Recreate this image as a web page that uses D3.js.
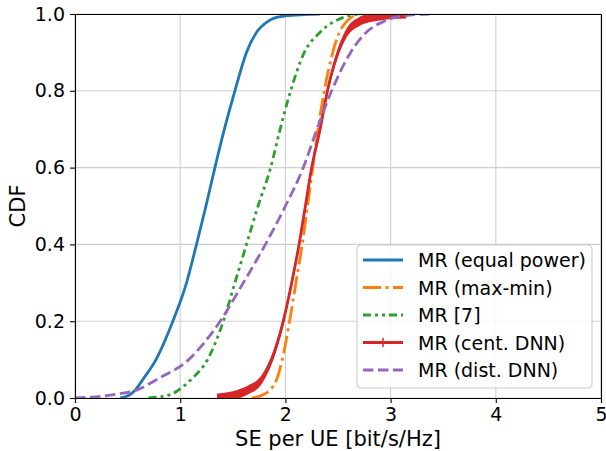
<!DOCTYPE html>
<html>
  <head>
    <meta charset="utf-8">
    <title>SE per UE CDF</title>
    <style media="screen">
      body {margin:0; background:#fff}
      text {font-family: "DejaVu Sans", sans-serif; fill:#000}
    </style>
  </head>
  <body>
    <script src="https://cdn.jsdelivr.net/npm/d3@7"></script>
    <script type="text/javascript">

    // CDF levels shared by every curve, and the SE value at each level
    const cdfLevels = [0, 0.01, 0.02, 0.05, 0.1, 0.2, 0.3, 0.4, 0.5, 0.6, 0.7, 0.8, 0.9, 0.95, 0.98, 0.99, 0.995, 1.0]

    const equalPower = [0.43, 0.53, 0.57, 0.65, 0.77, 0.93, 1.06, 1.155, 1.245, 1.33, 1.42, 1.52, 1.63, 1.72, 1.83, 1.90, 2.00, 2.33]
    const maxMin     = [1.68, 1.80, 1.85, 1.92, 1.97, 2.04, 2.10, 2.16, 2.21, 2.26, 2.31, 2.37, 2.45, 2.51, 2.58, 2.62, 2.65, 2.70]
    const ref7       = [0.70, 0.92, 0.98, 1.11, 1.26, 1.41, 1.52, 1.63, 1.74, 1.86, 1.95, 2.05, 2.18, 2.32, 2.46, 2.54, 2.60, 2.70]
    const centDNN    = [1.35, 1.55, 1.64, 1.78, 1.87, 1.98, 2.06, 2.13, 2.19, 2.25, 2.33, 2.40, 2.50, 2.58, 2.70, 2.80, 2.90, 3.15]
    const distDNN    = [0.00, 0.40, 0.58, 0.79, 1.08, 1.38, 1.60, 1.81, 2.00, 2.17, 2.30, 2.44, 2.62, 2.76, 2.93, 3.02, 3.12, 3.37]

    const seriesNames = ['MR (equal power)', 'MR (max-min)', 'MR [7]', 'MR (cent. DNN)', 'MR (dist. DNN)']
    const xTicks = [0, 1, 2, 3, 4, 5]
    const yTicks = [0.0, 0.2, 0.4, 0.6, 0.8, 1.0]

    const series = [
      {name: seriesNames[0], vals: equalPower, color: '#1f77b4', dash: null},
      {name: seriesNames[1], vals: maxMin, color: '#ff7f0e', dash: '18,4.5,3,4.5'},
      {name: seriesNames[2], vals: ref7, color: '#2ca02c', dash: '8,4,3,4,3,4'},
      {name: seriesNames[3], vals: centDNN, color: '#d62728', dash: null, band: true},
      {name: seriesNames[4], vals: distDNN, color: '#9467bd', dash: '10.5,4.5'}
    ]

    const W = 606, H = 451
    const m = {l: 75, r: 5, t: 14, b: 53}

    const svg = d3.select('body').append('svg')
      .attr('width', W)
      .attr('height', H)

    const x = d3.scaleLinear().domain([0, 5]).range([m.l, W - m.r])
    const y = d3.scaleLinear().domain([0, 1]).range([H - m.b, m.t])

    // grid
    const grid = svg.append('g').attr('stroke', '#cfcfcf').attr('stroke-width', 1.1)
    grid.selectAll('.gx').data(xTicks).join('line')
      .attr('x1', d => x(d)).attr('x2', d => x(d))
      .attr('y1', y(0)).attr('y2', y(1))
    grid.selectAll('.gy').data(yTicks).join('line')
      .attr('x1', x(0)).attr('x2', x(5))
      .attr('y1', d => y(d)).attr('y2', d => y(d))

    svg.append('clipPath').attr('id', 'clip')
      .append('rect')
      .attr('x', x(0)).attr('y', y(1))
      .attr('width', x(5) - x(0)).attr('height', y(0) - y(1))

    const plot = svg.append('g').attr('clip-path', 'url(#clip)')

    const line = d3.line()
      .x(d => x(d[0]))
      .y(d => y(d[1]))
      .curve(d3.curveMonotoneX)

    // '|' markers sit on every sample of the red curve, which fills a band
    const band = d3.area()
      .x(d => x(d[0]))
      .y0(d => y(d[1]) + 4.5)
      .y1(d => y(d[1]) - 4.5)
      .curve(d3.curveMonotoneX)

    series.forEach(s => {
      const pts = s.vals.map((v, i) => [v, cdfLevels[i]])
      if (s.band) {
        plot.append('path').attr('d', band(pts)).attr('fill', s.color)
      }
      plot.append('path')
        .attr('d', line(pts))
        .attr('fill', 'none')
        .attr('stroke', s.color)
        .attr('stroke-width', 2.8)
        .attr('stroke-dasharray', s.dash)
    })

    // axes
    svg.append('g')
      .attr('transform', `translate(0,${y(0)})`)
      .call(d3.axisBottom(x).tickValues(xTicks).tickFormat(d3.format('d')).tickSize(5).tickPadding(5))
    svg.append('g')
      .attr('transform', `translate(${x(0)},0)`)
      .call(d3.axisLeft(y).tickValues(yTicks).tickFormat(d3.format('.1f')).tickSize(5).tickPadding(5))

    svg.append('g').attr('transform', `translate(${x(5)},0)`)
      .call(d3.axisRight(y).tickValues([]).tickSizeOuter(0))
    svg.append('g').attr('transform', `translate(0,${y(1)})`)
      .call(d3.axisTop(x).tickValues([]).tickSizeOuter(0))

    svg.selectAll('.domain').attr('stroke', '#000').attr('stroke-width', 1.1)
    svg.selectAll('.tick line').attr('stroke', '#000').attr('stroke-width', 1.1)
    svg.selectAll('.tick text').attr('font-size', 19).attr('font-family', 'DejaVu Sans').attr('fill', '#000')

    svg.append('text')
      .attr('x', (x(0) + x(5)) / 2).attr('y', 446)
      .attr('text-anchor', 'middle').attr('font-size', 21)
      .text('SE per UE [bit/s/Hz]')

    svg.append('text')
      .attr('transform', `translate(25,${(y(0) + y(1)) / 2}) rotate(-90)`)
      .attr('text-anchor', 'middle').attr('font-size', 21)
      .text('CDF')

    // legend
    const lg = svg.append('g').attr('transform', 'translate(357,245)')
    lg.append('rect')
      .attr('width', 235).attr('height', 143).attr('rx', 4)
      .attr('fill', '#fff').attr('fill-opacity', 0.8)
      .attr('stroke', '#cccccc').attr('stroke-width', 1.1)

    const row = lg.selectAll('.row').data(series).join('g')
      .attr('transform', (d, i) => `translate(0,${15 + i * 27.5})`)
    row.append('line')
      .attr('x1', 6).attr('x2', 46)
      .attr('stroke', d => d.color).attr('stroke-width', 2.8)
      .attr('stroke-dasharray', d => d.dash)
    row.filter(d => d.band).append('line')
      .attr('x1', 26).attr('x2', 26).attr('y1', -4.5).attr('y2', 4.5)
      .attr('stroke', d => d.color).attr('stroke-width', 1.5)
    row.append('text')
      .attr('x', 61).attr('y', 7)
      .attr('font-size', 19)
      .text(d => d.name)

    </script>
  </body>
</html>
